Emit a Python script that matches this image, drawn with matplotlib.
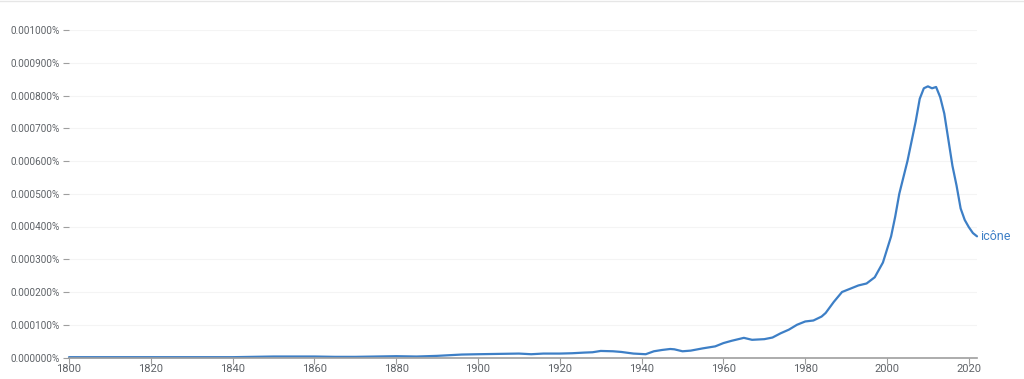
import matplotlib
matplotlib.use("Agg")
import matplotlib.pyplot as plt
from matplotlib.ticker import FuncFormatter, MultipleLocator

years = [1800, 1810, 1820, 1830, 1840, 1845, 1850, 1855, 1860, 1865, 1870, 1875,
         1880, 1885, 1890, 1893, 1896, 1900, 1905, 1910, 1913, 1916, 1920, 1923,
         1926, 1928, 1930, 1933, 1935, 1938, 1941, 1943, 1945, 1947, 1948, 1950,
         1952, 1955, 1958, 1960, 1962, 1965, 1967, 1970, 1972, 1974, 1976, 1978,
         1980, 1982, 1984, 1985, 1987, 1989, 1991, 1993, 1995, 1997, 1999, 2000,
         2001, 2002, 2003, 2004, 2005, 2006, 2007, 2008, 2009, 2010, 2011, 2012,
         2013, 2014, 2015, 2016, 2017, 2018, 2019, 2020, 2021, 2022]
icone = [0.000001, 0.000001, 0.000001, 0.000001, 0.000001, 0.000002, 0.000003,
         0.000003, 0.000003, 0.000002, 0.000002, 0.000003, 0.000004, 0.000003,
         0.000005, 0.000007, 0.000009, 0.000010, 0.000011, 0.000012, 0.000010,
         0.000012, 0.000012, 0.000013, 0.000015, 0.000016, 0.000020, 0.000019,
         0.000017, 0.000012, 0.000010, 0.000019, 0.000023, 0.000026, 0.000025,
         0.000019, 0.000021, 0.000028, 0.000034, 0.000044, 0.000051, 0.000060,
         0.000054, 0.000056, 0.000061, 0.000074, 0.000085, 0.000100, 0.000110,
         0.000113, 0.000125, 0.000136, 0.000170, 0.000200, 0.000210, 0.000220,
         0.000226, 0.000245, 0.000290, 0.000330, 0.000370, 0.000430, 0.000500,
         0.000550, 0.000600, 0.000660, 0.000720, 0.000790, 0.000822, 0.000828,
         0.000822, 0.000826, 0.000795, 0.000745, 0.000665, 0.000585, 0.000525,
         0.000455, 0.000420, 0.000398, 0.000380, 0.000370]
series_label = "icône"
x_ticks = [1800, 1820, 1840, 1860, 1880, 1900, 1920, 1940, 1960, 1980, 2000, 2020]

plt.rcParams['font.family'] = ['Roboto', 'DejaVu Sans']

fig = plt.figure(figsize=(10.24, 3.79), dpi=100)
ax = fig.add_axes([69/1024, 21.5/379, (977-69)/1024, (357.5-30)/379])

line_color = '#3d7fc6'
text_gray = '#5f6368'

ax.plot(years, icone, color=line_color, lw=1.6, solid_capstyle='round',
        solid_joinstyle='round', clip_on=False)
ax.text(years[-1] + 0.8, icone[-1], series_label, color=line_color, fontsize=9,
        va='center', ha='left')

ax.set_xlim(1800, 2022)
ax.set_ylim(0, 0.001)
ax.set_xticks(x_ticks)
ax.yaxis.set_major_locator(MultipleLocator(0.0001))
ax.yaxis.set_major_formatter(FuncFormatter(lambda v, p: f"{v:.6f}%"))

for s in ['top', 'right', 'left']:
    ax.spines[s].set_visible(False)
ax.spines['bottom'].set_color('#9e9e9e')
ax.spines['bottom'].set_linewidth(1.2)

ax.tick_params(axis='y', length=4, width=0.8, color='#9e9e9e', labelsize=7.2,
               labelcolor=text_gray, pad=3)
ax.tick_params(axis='x', length=4, width=0.8, color='#9e9e9e', labelsize=8,
               labelcolor=text_gray, pad=1)

ax.grid(axis='y', color='#f4f4f4', lw=0.8)
ax.set_axisbelow(True)

fig.add_artist(plt.Line2D([0, 1], [0.998, 0.998], color='#e6e6e6', lw=1))

fig.savefig("out.png", dpi=100)
